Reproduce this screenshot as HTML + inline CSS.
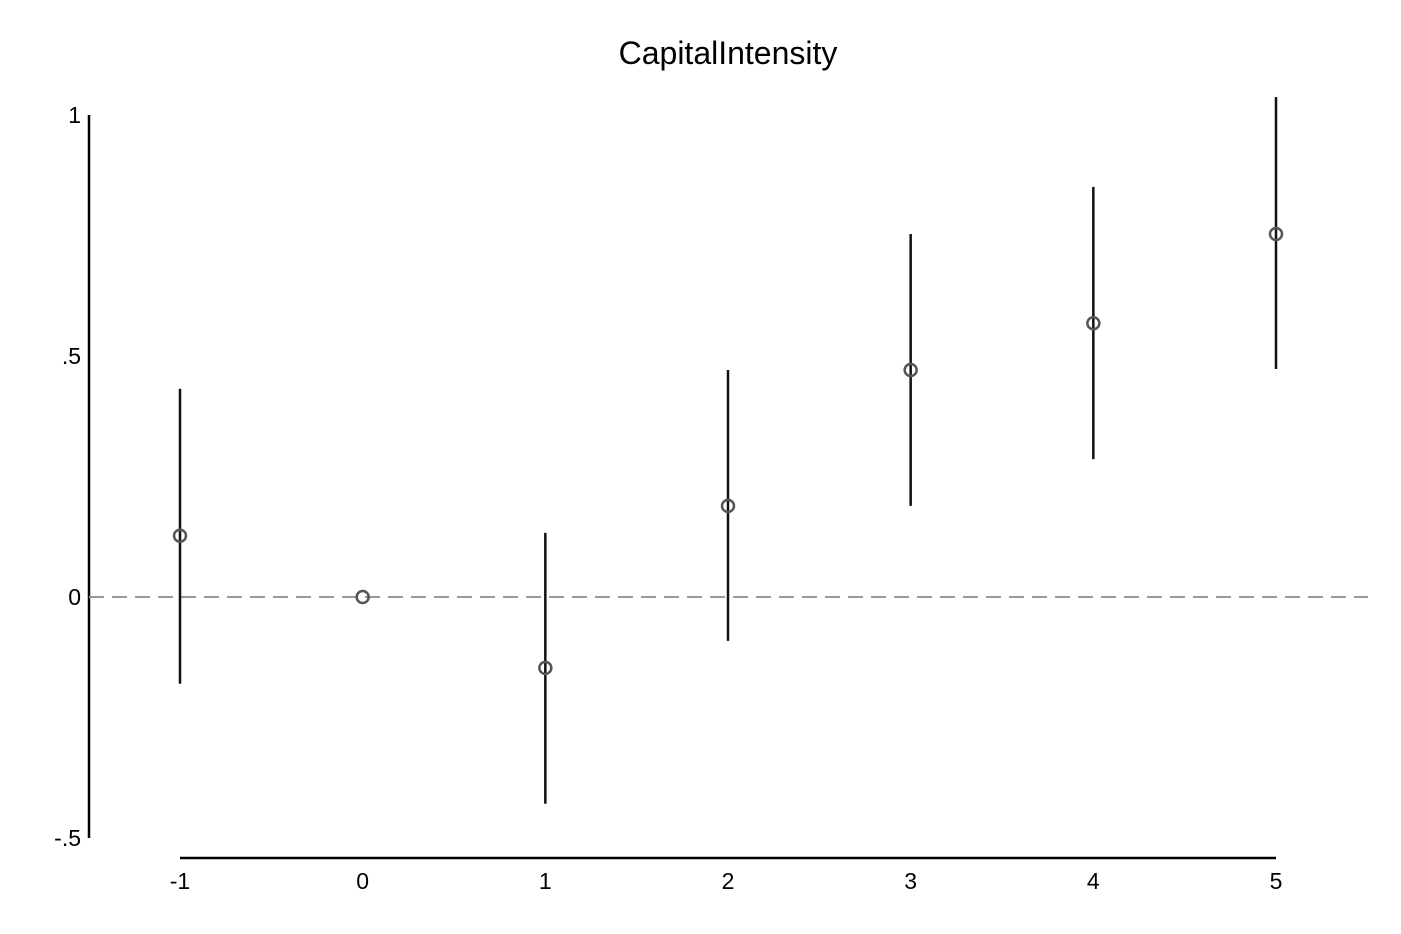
<!DOCTYPE html>
<html><head><meta charset="utf-8"><style>
html,body{margin:0;padding:0;background:#fff;}
svg{display:block;font-family:"Liberation Sans",Arial,sans-serif;}
</style></head><body>
<svg id="chart" width="1401" height="934" viewBox="0 0 1401 934">
<rect width="1401" height="934" fill="#fff"/>
<text x="728" y="64" font-size="32" text-anchor="middle" fill="#000">CapitalIntensity</text>
<g id="axes"></g>
<g id="marks"></g>
</svg>
<script>
const categories = [-1, 0, 1, 2, 3, 4, 5];
const estimates = [0.127, 0, -0.147, 0.189, 0.471, 0.568, 0.753];
const ciLower = [-0.18, null, -0.429, -0.091, 0.189, 0.286, 0.473];
const ciUpper = [0.432, null, 0.133, 0.471, 0.753, 0.851, 1.037];
const yTicks = [1, 0.5, 0, -0.5];
const yTickLabels = ["1", ".5", "0", "-.5"];
const xTickLabels = ["-1", "0", "1", "2", "3", "4", "5"];

const NS = "http://www.w3.org/2000/svg";
const xs = v => 180 + (v + 1) * (1276 - 180) / 6;
const ys = v => 597 - v * 482;
const axes = document.getElementById('axes');
const marks = document.getElementById('marks');
function mk(tag, attrs, parent){const e=document.createElementNS(NS,tag);for(const k in attrs)e.setAttribute(k,attrs[k]);parent.appendChild(e);return e;}

let yl = mk('line',{x1:89,x2:89,y1:ys(1),y2:ys(-0.5),stroke:'#000','stroke-width':2.5},axes);


yTicks.forEach((t,i)=>{
  const tx = mk('text',{x:81,y:ys(t)+8,'font-size':23,'text-anchor':'end',fill:'#000'},axes);
  tx.textContent = yTickLabels[i];
  
  
});
let xl = mk('line',{x1:xs(-1),x2:xs(5),y1:858,y2:858,stroke:'#000','stroke-width':2.5},axes);


categories.forEach((c,i)=>{
  const tx = mk('text',{x:xs(c),y:889,'font-size':23,'text-anchor':'middle',fill:'#000'},axes);
  tx.textContent = xTickLabels[i];
  
  
});
let zl = mk('line',{x1:89,x2:1368,y1:ys(0),y2:ys(0),stroke:'#999','stroke-width':2,'stroke-dasharray':'15,8'},axes);



categories.forEach((c,i)=>{
  if(ciLower[i]!==null){
    const l = mk('line',{x1:xs(c),x2:xs(c),y1:ys(ciUpper[i]),y2:ys(ciLower[i]),stroke:'#111','stroke-width':2.5},marks);
    
    
  }
  const p = mk('circle',{cx:xs(c),cy:ys(estimates[i]),r:6,fill:'none',stroke:'#555','stroke-width':2.5},marks);
  
  
});
</script>
</body></html>
